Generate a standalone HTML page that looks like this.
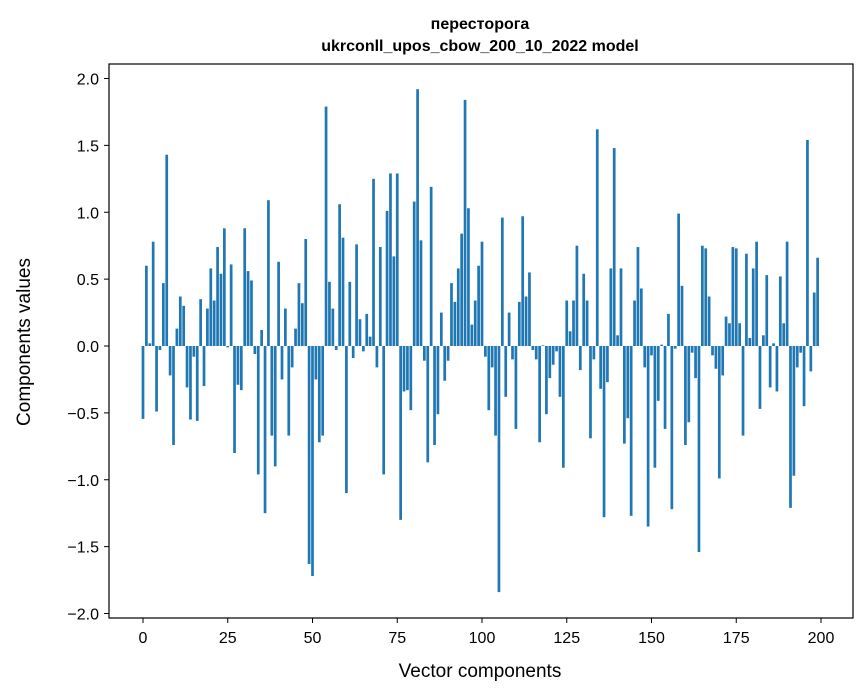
<!DOCTYPE html>
<html><head><meta charset="utf-8"><style>
body{margin:0;background:#fff;}
svg{display:block;font-family:"Liberation Sans","DejaVu Sans",sans-serif;}
</style></head><body>
<svg id="chart" width="867" height="696">
<rect width="867" height="696" fill="#fff"/>
<text x="480" y="29" text-anchor="middle" font-size="16" font-weight="bold">перестoрога</text>
<text x="480" y="51" text-anchor="middle" font-size="16" font-weight="bold">ukrconll_upos_cbow_200_10_2022 model</text>
<text x="480" y="677" text-anchor="middle" font-size="19">Vector components</text>
<text transform="translate(30,342) rotate(-90)" text-anchor="middle" font-size="19">Components values</text>
<g id="bars"></g>
<g id="xticks"></g>
<g id="yticks"></g>
<rect x="109" y="64" width="744" height="554" fill="none" stroke="#000" stroke-width="1.2"/>
</svg>
<script>
const values = [
-0.545,0.60,0.02,0.78,-0.49,-0.03,0.47,1.43,-0.22,-0.74,
0.13,0.37,0.30,-0.31,-0.55,-0.08,-0.56,0.35,-0.30,0.28,
0.58,0.34,0.74,0.54,0.88,-0.01,0.61,-0.80,-0.29,-0.33,
0.88,0.56,0.49,-0.06,-0.96,0.12,-1.25,1.09,-0.67,-0.90,
0.63,-0.25,0.28,-0.67,-0.16,0.13,0.47,0.32,0.80,-1.63,
-1.72,-0.25,-0.72,-0.67,1.79,0.48,0.28,-0.03,1.06,0.81,
-1.10,0.48,-0.09,0.76,0.20,-0.04,0.24,0.07,1.25,-0.16,
0.74,-0.96,1.01,1.29,0.67,1.29,-1.30,-0.34,-0.33,-0.48,
1.08,1.92,0.79,-0.11,-0.87,1.19,-0.74,-0.51,0.25,-0.26,
-0.11,0.47,0.33,0.58,0.84,1.84,1.03,0.16,0.34,0.60,
0.78,-0.08,-0.48,-0.16,-0.67,-1.84,0.96,-0.38,0.25,-0.10,
-0.62,0.33,0.97,0.37,0.55,-0.03,-0.10,-0.72,0.005,-0.51,
-0.24,-0.14,-0.04,-0.38,-0.91,0.34,0.11,0.34,0.75,-0.18,
0.54,0.34,-0.69,-0.10,1.62,-0.32,-1.28,-0.27,0.58,1.48,
0.08,0.58,-0.73,-0.54,-1.27,0.34,0.74,0.43,-0.16,-1.35,
-0.07,-0.91,-0.41,0.01,-0.62,0.24,-1.22,-0.02,0.99,0.45,
-0.74,-0.57,-0.05,-0.24,-1.54,0.75,0.73,0.37,-0.07,-0.17,
-0.99,-0.22,0.22,0.17,0.74,0.73,0.17,-0.67,0.69,0.06,
0.58,0.78,-0.47,0.08,0.53,-0.31,0.02,-0.34,0.52,0.17,
0.78,-1.21,-0.97,-0.16,-0.05,-0.45,1.54,-0.19,0.40,0.66
];
const xTickValues = [0,25,50,75,100,125,150,175,200];
const yTickValues = [-2.0,-1.5,-1.0,-0.5,0.0,0.5,1.0,1.5,2.0];
const NS='http://www.w3.org/2000/svg';
const xScale = v => 143 + v*3.39;
const yScale = v => 346 - v*133.75;
const bars=document.getElementById('bars');
values.forEach((v,i)=>{
  const r=document.createElementNS(NS,'rect');
  const w=3.39*0.8;
  const y0=yScale(0), y1=yScale(v);
  r.setAttribute('x',xScale(i)-w/2);
  r.setAttribute('y',Math.min(y0,y1));
  r.setAttribute('width',w);
  r.setAttribute('height',Math.max(Math.abs(y1-y0),0.3));
  r.setAttribute('fill','#1f77b4');
  
  
  bars.appendChild(r);
});
const xt=document.getElementById('xticks');
xTickValues.forEach(v=>{
  const x=xScale(v);
  const l=document.createElementNS(NS,'line');
  l.setAttribute('x1',x);l.setAttribute('x2',x);l.setAttribute('y1',618);l.setAttribute('y2',623);
  l.setAttribute('stroke','#000');
  
  
  xt.appendChild(l);
  const t=document.createElementNS(NS,'text');
  t.setAttribute('x',x);t.setAttribute('y',643);t.setAttribute('text-anchor','middle');t.setAttribute('font-size','16');
  t.textContent=String(v);
  
  
  xt.appendChild(t);
});
const yt=document.getElementById('yticks');
yTickValues.forEach(v=>{
  const y=yScale(v);
  const l=document.createElementNS(NS,'line');
  l.setAttribute('x1',104);l.setAttribute('x2',109);l.setAttribute('y1',y);l.setAttribute('y2',y);
  l.setAttribute('stroke','#000');
  
  
  yt.appendChild(l);
  const t=document.createElementNS(NS,'text');
  t.setAttribute('x',99);t.setAttribute('y',y+6);t.setAttribute('text-anchor','end');t.setAttribute('font-size','16');
  t.textContent=(v<0?'\u2212':'')+Math.abs(v).toFixed(1);
  
  
  yt.appendChild(t);
});
</script>
</body></html>
